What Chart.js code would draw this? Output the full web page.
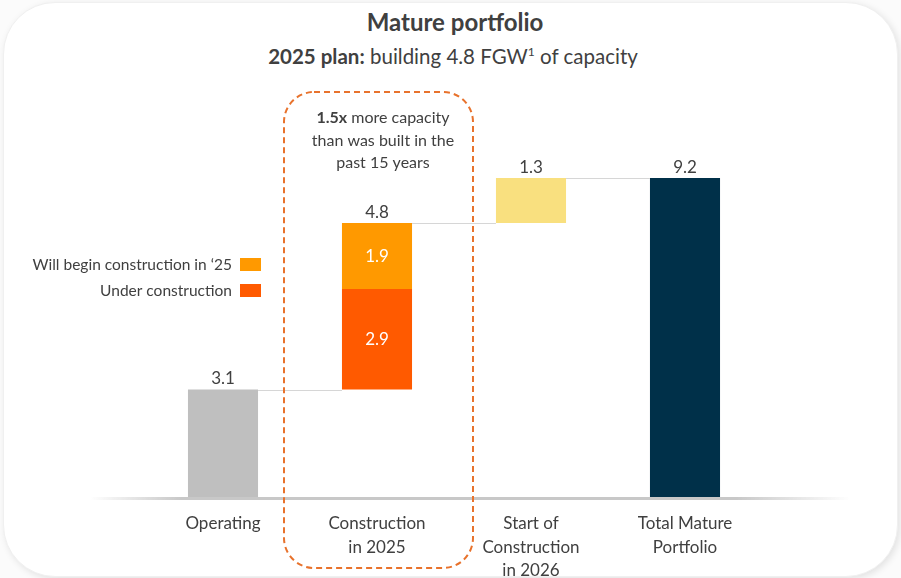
<!DOCTYPE html>
<html>
<head>
<meta charset="utf-8">
<script src="https://cdn.jsdelivr.net/npm/chart.js@4.4.1/dist/chart.umd.min.js"></script>
<style>
  html, body { margin: 0; padding: 0; background: #fbfbfb; }
  #wrap { position: relative; width: 901px; height: 578px; overflow: hidden; font-family: Lato, "Open Sans", sans-serif; color: #404040; }
  #card { position: absolute; left: 3px; top: 2px; width: 893px; height: 573px; background: #fff;
          border-radius: 52px; border: 1px solid #f0f0f0; box-shadow: 2px 2px 7px rgba(0,0,0,0.10); }
  #title { position: absolute; top: 7px; left: 0; width: 910px; text-align: center; font-weight: bold; font-size: 24px; }
  #subtitle { position: absolute; top: 44px; left: 0; width: 906px; text-align: center; font-size: 20.5px; }
  #subtitle sup { font-size: 12px; vertical-align: 8px; line-height: 0; }
  canvas { position: absolute; left: 0; top: 0; }
</style>
</head>
<body>
<div id="wrap">
  <div id="card"></div>
  <div id="title">Mature portfolio</div>
  <div id="subtitle"><b>2025 plan:</b> building 4.8 FGW<sup>1</sup> of capacity</div>
  <canvas id="chart" width="901" height="578"></canvas>
</div>
<script>
// values (FGW)
const categories = [['Operating'], ['Construction', 'in 2025'], ['Start of', 'Construction', 'in 2026'], ['Total Mature', 'Portfolio']];
const operating = [3.1];
const underConstruction = [2.9];
const willBegin = [1.9];
const start2026 = [1.3];
const totalMature = [9.2];
const legendLabels = ['Will begin construction in \u201825', 'Under construction'];

const colGray = '#bfbfbf', colRed = '#ff5a00', colOrange = '#ff9900', colYellow = '#f9e07f', colNavy = '#003049';
const textCol = '#404040';
const fontFam = 'Lato, "Open Sans", sans-serif';

const lvl1 = operating[0];
const lvl2 = lvl1 + underConstruction[0];
const lvl3 = lvl2 + willBegin[0];
const lvl4 = lvl3 + start2026[0];

const waterfallPlugin = {
  id: 'waterfall',
  beforeDatasetsDraw(chart) {
    const ctx = chart.ctx;
    const ys = chart.scales.y;
    // soft axis line
    const y0 = ys.getPixelForValue(0) + 1.5;
    const g = ctx.createLinearGradient(90, 0, 850, 0);
    g.addColorStop(0, 'rgba(200,200,200,0)');
    g.addColorStop(0.12, 'rgba(200,200,200,1)');
    g.addColorStop(0.85, 'rgba(200,200,200,1)');
    g.addColorStop(1, 'rgba(200,200,200,0)');
    ctx.save();
    ctx.strokeStyle = g;
    ctx.lineWidth = 3;
    ctx.beginPath(); ctx.moveTo(90, y0); ctx.lineTo(850, y0); ctx.stroke();
    ctx.restore();
  },
  afterDatasetsDraw(chart) {
    const ctx = chart.ctx;
    const ys = chart.scales.y;
    const xs = chart.scales.x;
    const main = chart.getDatasetMeta(2).data;
    const red = chart.getDatasetMeta(0).data[1];
    const org = chart.getDatasetMeta(1).data[1];
    const bw = main[0].width;
    ctx.save();
    // connector lines
    ctx.strokeStyle = '#d6d6d6';
    ctx.lineWidth = 1;
    const conn = [[0, lvl1], [1, lvl3], [2, lvl4]];
    conn.forEach(([i, v]) => {
      const yy = Math.round(ys.getPixelForValue(v)) + 0.5;
      ctx.beginPath();
      ctx.moveTo(xs.getPixelForValue(i) + bw / 2, yy);
      ctx.lineTo(xs.getPixelForValue(i + 1) - bw / 2, yy);
      ctx.stroke();
    });
    // value labels
    ctx.font = '17px ' + fontFam;
    ctx.textAlign = 'center';
    ctx.textBaseline = 'bottom';
    ctx.fillStyle = textCol;
    const tops = [[0, lvl1, operating[0]], [1, lvl3, underConstruction[0] + willBegin[0]], [2, lvl4, start2026[0]], [3, totalMature[0], totalMature[0]]];
    tops.forEach(([i, v, lab]) => {
      ctx.fillText(lab.toFixed(1), xs.getPixelForValue(i), ys.getPixelForValue(v) - 2);
    });
    ctx.textBaseline = 'middle';
    ctx.fillStyle = '#ffffff';
    ctx.fillText(underConstruction[0].toFixed(1), red.x, (red.y + red.base) / 2);
    ctx.fillText(willBegin[0].toFixed(1), org.x, (org.y + org.base) / 2);
    // legend
    ctx.textAlign = 'right';
    ctx.fillStyle = textCol;
    ctx.font = '15.5px ' + fontFam;
    const legCols = [colOrange, colRed];
    legendLabels.forEach((t, k) => {
      const ly = 265 + k * 26;
      ctx.fillText(t, 232, ly);
      ctx.fillStyle = legCols[k];
      ctx.fillRect(240, ly - 7, 21, 13);
      ctx.fillStyle = textCol;
    });
    // dashed highlight box around 2025 column
    const cx = xs.getPixelForValue(1);
    ctx.strokeStyle = '#e8722c';
    ctx.lineWidth = 2;
    ctx.setLineDash([6, 4]);
    ctx.beginPath();
    ctx.roundRect(cx - 93, 92, 189, 476, 30);
    ctx.stroke();
    ctx.setLineDash([]);
    // annotation
    const af = '16px ' + fontFam;
    ctx.textAlign = 'left';
    ctx.fillStyle = textCol;
    ctx.font = 'bold ' + af;
    const b = '1.5x';
    const r = ' more capacity';
    const wb = ctx.measureText(b).width;
    ctx.font = af;
    const wr = ctx.measureText(r).width;
    const ax = cx + 6;
    let sx = ax - (wb + wr) / 2;
    ctx.font = 'bold ' + af;
    ctx.fillText(b, sx, 118);
    ctx.font = af;
    ctx.fillText(r, sx + wb, 118);
    ctx.textAlign = 'center';
    ctx.fillText('than was built in the', ax, 141);
    ctx.fillText('past 15 years', ax, 163);
    ctx.restore();
  }
};

new Chart(document.getElementById('chart'), {
  type: 'bar',
  data: {
    labels: categories,
    datasets: [
      { label: legendLabels[1], data: [null, [lvl1, lvl2], null, null], backgroundColor: colRed },
      { label: legendLabels[0], data: [null, [lvl2, lvl3], null, null], backgroundColor: colOrange },
      { label: 'main', data: [[0, operating[0]], null, [lvl3, lvl4], [0, totalMature[0]]],
        backgroundColor: [colGray, colGray, colYellow, colNavy] }
    ]
  },
  options: {
    responsive: false,
    animation: false,
    layout: { padding: { left: 146, right: 139, top: 0, bottom: 0 } },
    datasets: { bar: { grouped: false, barPercentage: 0.455, categoryPercentage: 1, borderWidth: 0 } },
    plugins: { legend: { display: false }, tooltip: { enabled: false }, title: { display: false } },
    scales: {
      y: { display: false, min: 0, max: 9.2 / 319 * 497 },
      x: {
        grid: { display: false },
        border: { display: false },
        ticks: { color: textCol, font: { family: fontFam, size: 17, lineHeight: 1.38 }, padding: 7, maxRotation: 0, autoSkip: false },
        afterFit(scale) { scale.height = 81; }
      }
    }
  },
  plugins: [waterfallPlugin]
});
</script>
</body>
</html>
